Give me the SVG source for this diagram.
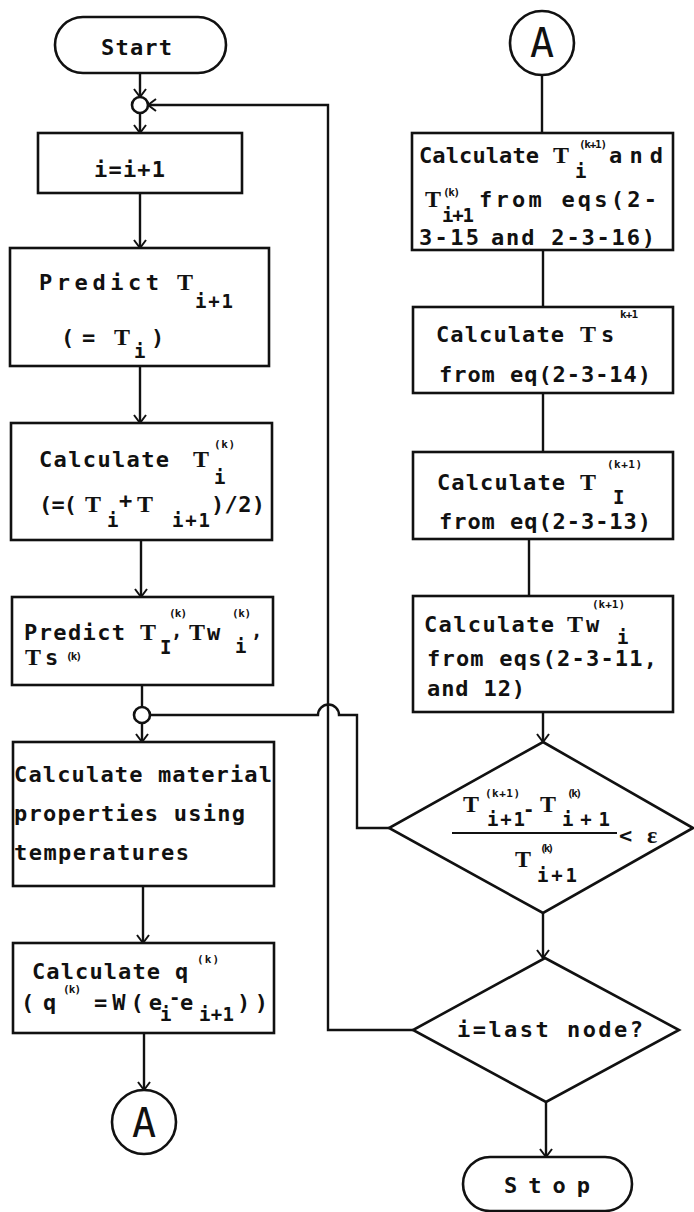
<svg xmlns="http://www.w3.org/2000/svg" width="694" height="1212" viewBox="0 0 694 1212">
<style>
.box{fill:#fff;stroke:#111;stroke-width:2.6}
.ln{fill:none;stroke:#111;stroke-width:2.4}
.t{font-family:"DejaVu Sans Mono","Liberation Mono",monospace;font-weight:bold;font-size:22px;fill:#111}
.T{font-family:"Liberation Serif",serif;font-weight:bold;font-size:24px;fill:#111}
.sp{font-family:"DejaVu Sans Mono","Liberation Mono",monospace;font-weight:bold;font-size:11px;fill:#111}
.sb{font-family:"DejaVu Sans Mono","Liberation Mono",monospace;font-weight:bold;font-size:19px;fill:#111}
.A{font-family:"DejaVu Sans Mono",monospace;font-size:40px;fill:#111;text-anchor:middle}
</style>
<defs>
<marker id="arr" markerUnits="userSpaceOnUse" markerWidth="10" markerHeight="14" viewBox="0 0 10 14" refX="9" refY="7" orient="auto">
<path d="M1,1 L9,7 L1,13" fill="none" stroke="#111" stroke-width="2"/>
</marker>
</defs>

<g id="connectors">
<line class="ln" x1="140" y1="73" x2="140" y2="97" marker-end="url(#arr)"/>
<line class="ln" x1="140" y1="113" x2="140" y2="133" marker-end="url(#arr)"/>
<line class="ln" x1="140" y1="193" x2="140" y2="248" marker-end="url(#arr)"/>
<line class="ln" x1="140" y1="366" x2="140" y2="423" marker-end="url(#arr)"/>
<line class="ln" x1="141" y1="540" x2="141" y2="597" marker-end="url(#arr)"/>
<line class="ln" x1="142" y1="685" x2="142" y2="707"/>
<line class="ln" x1="142" y1="723" x2="142" y2="742" marker-end="url(#arr)"/>
<line class="ln" x1="143" y1="886" x2="143" y2="943" marker-end="url(#arr)"/>
<line class="ln" x1="144" y1="1033" x2="144" y2="1090" marker-end="url(#arr)"/>
<line class="ln" x1="542" y1="75" x2="542" y2="133"/>
<line class="ln" x1="543" y1="250" x2="543" y2="307"/>
<line class="ln" x1="543" y1="393" x2="543" y2="452"/>
<line class="ln" x1="529" y1="539" x2="529" y2="596"/>
<line class="ln" x1="543" y1="712" x2="543" y2="742" marker-end="url(#arr)"/>
<line class="ln" x1="543" y1="913" x2="543" y2="958" marker-end="url(#arr)"/>
<line class="ln" x1="546" y1="1102" x2="546" y2="1157" marker-end="url(#arr)"/>
<polyline class="ln" points="413,1030 328,1030 328,105 148,105" marker-end="url(#arr)"/>
<path class="ln" d="M389,828 H357 V715 H339 A10.5 10.5 0 0 0 318 715 H150"/>
</g>

<g id="start">
<rect class="box" x="55" y="17" width="171" height="56" rx="28"/>
<text class="t" x="101" y="55" textLength="71">Start</text>
</g>
<g id="junction-top"><circle class="box" cx="140" cy="105" r="8" stroke-width="2.2"/></g>
<g id="inc">
<rect class="box" x="38" y="133" width="204" height="60"/>
<text class="t" x="94" y="177" textLength="71">i=i+1</text>
</g>
<g id="predict-t">
<rect class="box" x="10" y="248" width="259" height="118"/>
<text class="t" x="39" y="290" textLength="120">Predict</text>
<text class="T" x="177" y="290">T</text>
<text class="sb" x="195" y="308" textLength="38">i+1</text>
<text class="t" x="61" y="345">(</text>
<text class="t" x="82" y="345">=</text>
<text class="T" x="114" y="345">T</text>
<text class="sb" x="134" y="358">i</text>
<text class="t" x="151" y="345">)</text>
</g>
<g id="calc-tk">
<rect class="box" x="11" y="423" width="261" height="117"/>
<text class="t" x="39" y="467" textLength="130">Calculate</text>
<text class="T" x="193" y="467">T</text>
<text class="sp" x="214" y="448" textLength="21">(k)</text>
<text class="sb" x="214" y="484">i</text>
<text class="t" x="39" y="512" textLength="38">(=(</text>
<text class="T" x="85" y="512">T</text>
<text class="sb" x="107" y="527">i</text>
<text class="t" x="119" y="508">+</text>
<text class="T" x="137" y="512">T</text>
<text class="sb" x="172" y="527" textLength="38">i+1</text>
<text class="t" x="211" y="512" textLength="54">)/2)</text>
</g>
<g id="predict-ti">
<rect class="box" x="12" y="597" width="261" height="88"/>
<text class="t" x="24" y="640" textLength="101">Predict</text>
<text class="T" x="140" y="640">T</text>
<text class="sp" x="169" y="617" textLength="18">(k)</text>
<text class="sb" x="160" y="654">I</text>
<text class="sb" x="171" y="637" font-size="15">,</text>
<text class="T" x="189" y="640">T</text>
<text class="t" x="207" y="640">w</text>
<text class="sp" x="232" y="617" textLength="19">(k)</text>
<text class="sb" x="235" y="653">i</text>
<text class="sb" x="251" y="637" font-size="15">,</text>
<text class="T" x="25" y="665">T</text>
<text class="t" x="45" y="665">s</text>
<text class="sp" x="66" y="660" textLength="16">(k)</text>
</g>
<g id="junction-mid"><circle class="box" cx="142" cy="715" r="8" stroke-width="2.2"/></g>
<g id="material">
<rect class="box" x="13" y="742" width="261" height="144"/>
<text class="t" x="14" y="782" textLength="258">Calculate material</text>
<text class="t" x="14" y="821" textLength="231">properties using</text>
<text class="t" x="14" y="860" textLength="175">temperatures</text>
</g>
<g id="calc-q">
<rect class="box" x="13" y="943" width="261" height="90"/>
<text class="t" x="32" y="979" textLength="128">Calculate</text>
<text class="t" x="175" y="979">q</text>
<text class="sp" x="197" y="963" textLength="22">(k)</text>
<text class="t" x="21" y="1010">(</text>
<text class="t" x="43" y="1010">q</text>
<text class="sp" x="63" y="993" textLength="18">(k)</text>
<text class="t" x="94" y="1010" textLength="68">=W(e</text>
<text class="sb" x="160" y="1021">i</text>
<text class="sb" x="169" y="1004">-</text>
<text class="t" x="180" y="1010">e</text>
<text class="sb" x="199" y="1021" textLength="35">i+1</text>
<text class="t" x="237" y="1010" textLength="31">))</text>
</g>
<g id="conn-a-left">
<circle class="box" cx="144" cy="1122" r="32" stroke-width="2.2"/>
<text class="A" x="144" y="1137">A</text>
</g>
<g id="conn-a-right">
<circle class="box" cx="542" cy="43" r="32" stroke-width="2.2"/>
<text class="A" x="542" y="57">A</text>
</g>
<g id="calc-ti-ti1">
<rect class="box" x="412" y="133" width="261" height="117"/>
<text class="t" x="419" y="163" textLength="120">Calculate</text>
<text class="T" x="553" y="163">T</text>
<text class="sp" x="579" y="148" textLength="28">(k+1)</text>
<text class="sb" x="575" y="178">i</text>
<text class="t" x="609" y="163" textLength="54">and</text>
<text class="T" x="425" y="207">T</text>
<text class="sp" x="443" y="196" textLength="17">(k)</text>
<text class="sb" x="442" y="222" textLength="32">i+1</text>
<text class="t" x="479" y="207" textLength="178">from eqs(2-</text>
<text class="t" x="419" y="245" textLength="60">3-15</text>
<text class="t" x="491" y="245" textLength="164">and 2-3-16)</text>
</g>
<g id="calc-ts">
<rect class="box" x="413" y="307" width="260" height="86"/>
<text class="t" x="436" y="342" textLength="128">Calculate</text>
<text class="T" x="580" y="342">T</text>
<text class="t" x="601" y="342">s</text>
<text class="sp" x="620" y="318" textLength="18">k+1</text>
<text class="t" x="439" y="382" textLength="212">from eq(2-3-14)</text>
</g>
<g id="calc-tI">
<rect class="box" x="413" y="452" width="260" height="87"/>
<text class="t" x="437" y="490" textLength="128">Calculate</text>
<text class="T" x="580" y="490">T</text>
<text class="sp" x="607" y="468" textLength="35">(k+1)</text>
<text class="sb" x="613" y="504" font-size="14">I</text>
<text class="t" x="439" y="529" textLength="212">from eq(2-3-13)</text>
</g>
<g id="calc-tw">
<rect class="box" x="413" y="596" width="260" height="116"/>
<text class="t" x="424" y="632" textLength="130">Calculate</text>
<text class="T" x="567" y="632">T</text>
<text class="t" x="586" y="632">w</text>
<text class="sp" x="592" y="608" textLength="33">(k+1)</text>
<text class="sb" x="617" y="644" font-size="16">i</text>
<text class="t" x="427" y="666" textLength="230">from eqs(2-3-11,</text>
<text class="t" x="427" y="696" textLength="98">and 12)</text>
</g>
<g id="converge">
<polygon class="box" points="543,742 693,828 543,913 389,828"/>
<text class="T" x="463" y="812">T</text>
<text class="sp" x="485" y="797" textLength="35">(k+1)</text>
<text class="sb" x="487" y="826" textLength="38">i+1</text>
<text class="sb" x="523" y="816">-</text>
<text class="T" x="540" y="812">T</text>
<text class="sp" x="567" y="797" textLength="15">(k)</text>
<text class="sb" x="562" y="826" textLength="48">i+1</text>
<line x1="452" y1="833" x2="617" y2="833" stroke="#111" stroke-width="2"/>
<text class="t" x="619" y="843">&lt;</text>
<text class="T" x="647" y="843">ε</text>
<text class="T" x="515" y="867">T</text>
<text class="sp" x="540" y="852" textLength="14">(k)</text>
<text class="sb" x="537" y="882" textLength="40">i+1</text>
</g>
<g id="last-node">
<polygon class="box" points="545,958 679,1030 546,1102 413,1030"/>
<text class="t" x="457" y="1037" textLength="186">i=last node?</text>
</g>
<g id="stop">
<rect class="box" x="463" y="1157" width="169" height="54" rx="27"/>
<text class="t" x="504" y="1193" textLength="86">S t o p</text>
</g>
</svg>
